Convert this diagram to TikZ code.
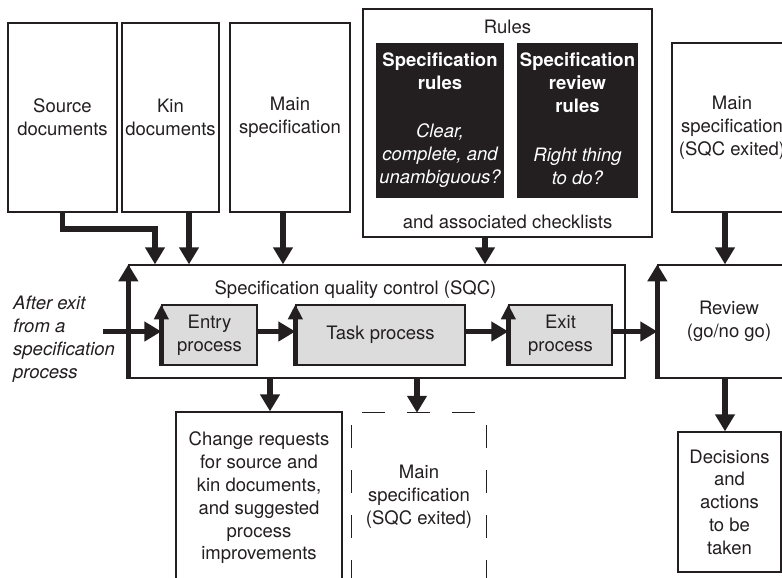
\documentclass[tikz,border=0pt]{standalone}
\usepackage{fontspec}
\setmainfont{TeX Gyre Heros}
\usetikzlibrary{arrows.meta,calc}
\definecolor{ink}{HTML}{231F20}
\definecolor{procfill}{HTML}{DCDCDC}
\newcommand\fs{\fontsize{18.5}{22.8}\selectfont}
\begin{document}
\begin{tikzpicture}[x=1pt,y=-1pt,font=\fs,text=ink,
  box/.style={draw=ink,line width=1.3pt,inner sep=0pt,align=center,fill=white},
  proc/.style={box,fill=procfill},
  blk/.style={fill=ink,draw=none,inner sep=0pt},
  wt/.style={text=white,align=center,inner sep=0pt},
  lbl/.style={align=center,inner sep=0pt},
  arr/.style={draw=ink,line width=5.5pt,-{Triangle[width=19pt,length=17pt]}},
  sarr/.style={draw=ink,line width=5pt,-{Triangle[width=14pt,length=15pt]}},
  dsh/.style={draw=ink,line width=1.3pt,dash pattern=on 23pt off 22pt}]
\clip (0,0) rectangle (782,578);
\fill[white] (0,0) rectangle (782,578);
% top documents
\node[box,minimum width=109pt,minimum height=189pt] (src) at (62.5,117.5) {Source\\documents};
\node[box,minimum width=97pt,minimum height=189pt] (kin) at (170.5,117.5) {Kin\\documents};
\node[box,minimum width=120pt,minimum height=189pt] (msp) at (290,117.5) {Main\\specification};
% rules
\node[box,minimum width=289pt,minimum height=228pt] (rules) at (507.5,123) {};
\node[lbl] (rulest) at (507.5,27) {Rules};
\node[lbl] (chk) at (507.5,222) {and associated checklists};
\node[blk,minimum width=128pt,minimum height=155pt] (sr) at (440,120.5) {};
\node[blk,minimum width=121pt,minimum height=155pt] (srr) at (577.5,120.5) {};
\node[wt,font=\fs\bfseries] (sr1) at (440,71) {Specification\\rules};
\node[wt,font=\fs\itshape] (sr2) at (440,155.5) {Clear,\\complete, and\\unambiguous?};
\node[wt,font=\fs\bfseries] (srr1) at (577.5,82.5) {Specification\\review\\rules};
\node[wt,font=\fs\itshape] (srr2) at (577.5,166.5) {Right thing\\to do?};
% right main spec
\node[box,minimum width=120pt,minimum height=169pt] (rms) at (732,127.5) {Main\\specification\\(SQC exited)};
% SQC
\node[box,minimum width=496pt,minimum height=113pt] (sqc) at (377,321.5) {};
\node[lbl] (sqct) at (355.5,290) {Specification quality control (SQC)};
\node[proc,minimum width=95pt,minimum height=60pt] (entry) at (209.5,335) {Entry\\process};
\node[proc,minimum width=169pt,minimum height=60pt] (task) at (380.5,335) {Task process};
\node[proc,minimum width=103pt,minimum height=60pt] (exit) at (560.5,335) {Exit\\process};
% review and decisions
\node[box,minimum width=142pt,minimum height=113pt] (rev) at (729,321.5) {Review\\(go/no go)};
\node[box,minimum width=103pt,minimum height=140pt] (dec) at (729.5,502) {Decisions\\and\\actions\\to be\\taken};
% bottom outputs
\node[box,minimum width=166pt,minimum height=172pt] (chg) at (259,498) {Change requests\\for source and\\kin documents,\\and suggested\\process\\improvements};
\node[lbl,minimum width=134pt,minimum height=168pt] (dsb) at (419,497) {Main\\specification\\(SQC exited)};
\draw[dsh,dash phase=35pt] (dsb.north west) -- (dsb.north east);
\draw[dsh,dash phase=33pt] (dsb.north west) -- (dsb.south west);
\draw[dsh,dash phase=33pt] (dsb.north east) -- (dsb.south east);
% left text
\node[font=\fs\itshape,align=left,anchor=west,inner sep=0pt] (after) at (13,339) {After exit\\from a\\specification\\process};
% connectors from top
\draw[arr] (src.south) -- ++(0,16.5) -| ([xshift=-222pt]sqc.north);
\coordinate (k1) at ($(kin.south)+(18.5,0)$);
\draw[arr] (k1) -- (k1 |- sqc.north);
\coordinate (m1) at ($(msp.south)+(-7,0)$);
\draw[arr] (m1) -- (m1 |- sqc.north);
\coordinate (r1) at ($(rules.south)+(-22.5,0)$);
\draw[arr] (r1) -- (r1 |- sqc.north);
\coordinate (q1) at ($(rms.south)+(-7,0)$);
\draw[arr] (q1) -- (q1 |- rev.north);
\draw[arr] (q1 |- rev.south) -- (q1 |- dec.north);
% bottom connectors
\coordinate (c1) at ($(chg.north)+(11,0)$);
\draw[arr] (c1 |- sqc.south) -- (c1);
\coordinate (d1) at ($(dsb.north)+(-2,0)$);
\draw[arr] (d1 |- sqc.south) -- (d1);
% edge arrows
\draw[arr] (sqc.south west) -- (sqc.north west);
\draw[arr] (rev.south west) -- (rev.north west);
\draw[sarr] (entry.south west) -- (entry.north west);
\draw[sarr] (task.south west) -- (task.north west);
\draw[sarr] (exit.south west) -- (exit.north west);
% horizontal flow
\coordinate (in) at (103,331.5);
\draw[arr] (in) -- (in -| entry.west);
\draw[arr] (entry.east |- in) -- (task.west |- in);
\draw[arr] (task.east |- in) -- (exit.west |- in);
\draw[arr] (exit.east |- in) -- (rev.west |- in);
\end{tikzpicture}
\end{document}
